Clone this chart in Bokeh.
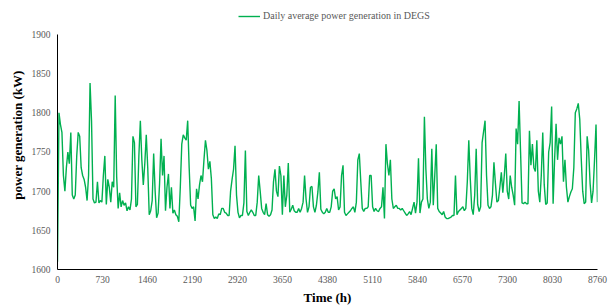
from bokeh.plotting import figure
from bokeh.models import FixedTicker, Legend, LegendItem, Range1d
from bokeh.embed import file_html
from bokeh.resources import INLINE

# daily average power generation (kW), one value per day (hour = day * 24)
power_kw = [
    1610, 1800, 1785, 1775, 1720, 1700, 1730, 1750, 1735, 1775,
    1695, 1690, 1695, 1745, 1775, 1770, 1730, 1720, 1715, 1705,
    1688, 1720, 1838, 1790, 1690, 1685, 1686, 1712, 1685, 1688,
    1686, 1720, 1745, 1683, 1715, 1705, 1686, 1712, 1705, 1822,
    1718, 1678, 1698, 1680, 1688, 1682,
    1685, 1675, 1680, 1676, 1690, 1770, 1762, 1680, 1683, 1745,
    1790, 1740, 1708, 1735, 1772, 1730, 1670, 1675, 1688, 1748,
    1700, 1666, 1672, 1710, 1767, 1720, 1745, 1675, 1705, 1722,
    1678, 1705, 1672, 1676, 1670, 1668, 1661, 1705, 1760, 1772,
    1768, 1765, 1790, 1730, 1682, 1678,
    1680, 1662, 1703, 1690, 1708, 1720, 1712, 1740, 1765, 1752,
    1728, 1738, 1716, 1670, 1665, 1667, 1665, 1671, 1670, 1678,
    1678, 1673, 1672, 1669, 1669, 1700, 1715, 1728, 1758, 1695,
    1673, 1666, 1669, 1669, 1685, 1752, 1674, 1669, 1673, 1676,
    1673, 1669, 1669, 1686, 1720, 1700,
    1678, 1673, 1670, 1684, 1670, 1668, 1670, 1676, 1712, 1728,
    1700, 1693, 1732, 1720, 1670, 1720, 1680, 1695, 1736, 1673,
    1677, 1682, 1675, 1673, 1673, 1678, 1673, 1678, 1686, 1720,
    1690, 1673, 1680, 1705, 1706, 1680, 1673, 1682, 1699, 1724,
    1677, 1673, 1671, 1673, 1678, 1673,
    1673, 1680, 1700, 1703, 1690, 1693, 1676, 1680, 1720, 1733,
    1673, 1669, 1671, 1673, 1675, 1678, 1680, 1673, 1686, 1740,
    1748, 1712, 1678, 1674, 1678, 1678, 1680, 1720, 1720, 1680,
    1674, 1678, 1675, 1674, 1678, 1680, 1705, 1665, 1760, 1735,
    1720, 1740, 1690, 1678, 1680, 1682,
    1678, 1678, 1676, 1678, 1675, 1672, 1669, 1671, 1674, 1670,
    1678, 1686, 1672, 1686, 1742, 1672, 1686, 1690, 1795, 1728,
    1690, 1678, 1686, 1754, 1682, 1720, 1760, 1678, 1674, 1672,
    1670, 1674, 1667, 1665, 1665, 1666, 1667, 1669, 1669, 1720,
    1670, 1674, 1676, 1678, 1680, 1675,
    1678, 1712, 1765, 1716, 1678, 1670, 1695, 1754, 1683, 1674,
    1680, 1762, 1776, 1790, 1720, 1682, 1678, 1680, 1695, 1737,
    1710, 1686, 1688, 1705, 1724, 1698, 1720, 1748, 1700, 1690,
    1720, 1705, 1695, 1682, 1780, 1760, 1815, 1750, 1685, 1684,
    1686, 1684, 1684, 1777, 1733, 1760,
    1730, 1725, 1765, 1700, 1686, 1720, 1775, 1708, 1683, 1685,
    1750, 1762, 1808, 1684, 1740, 1786, 1740, 1768, 1760, 1770,
    1712, 1740, 1705, 1686, 1693, 1699, 1703, 1730, 1800, 1805,
    1812, 1792, 1742, 1700, 1684, 1686, 1770, 1752, 1710, 1685,
    1700, 1740, 1785, 1686,
]
time_h = [d * 24 for d in range(len(power_kw))]

x_ticks = [0, 730, 1460, 2190, 2920, 3650, 4380, 5110, 5840, 6570, 7300, 8030, 8760]
y_ticks = [1600, 1650, 1700, 1750, 1800, 1850, 1900]
series_label = "Daily average power generation in DEGS"
x_title = "Time (h)"
y_title = "power generation (kW)"

FONT = "Liberation Serif"
GREEN = "#00B050"
GREY = "#595959"

# frame runs to the top of the canvas so the legend (drawn inside it) sits above 1900
Y_TOP = 1943.4

p = figure(width=611, height=307, output_backend="svg", toolbar_location=None,
           x_range=Range1d(0, 8760), y_range=Range1d(1600, Y_TOP),
           min_border_left=57, min_border_right=14, min_border_top=0, min_border_bottom=38)
p.outline_line_color = None
p.xgrid.visible = False
p.ygrid.visible = False

r = p.line(time_h, power_kw, line_color=GREEN, line_width=1.4)

for ax in (p.xaxis[0], p.yaxis[0]):
    ax.major_tick_line_color = None
    ax.minor_tick_line_color = None
    ax.major_tick_out = 0
    ax.major_tick_in = 0
    ax.minor_tick_out = 0
    ax.minor_tick_in = 0
    ax.axis_line_color = "black"
    ax.axis_line_width = 1
    ax.major_label_text_font = FONT
    ax.major_label_text_font_size = "9.5px"
    ax.major_label_text_color = GREY
    ax.axis_label_text_font = FONT
    ax.axis_label_text_font_style = "bold"
    ax.axis_label_text_font_size = "13px"
    ax.axis_label_text_color = "black"

p.xaxis.ticker = FixedTicker(ticks=x_ticks)
p.yaxis.ticker = FixedTicker(ticks=y_ticks)
p.yaxis.bounds = (y_ticks[0], y_ticks[-1])
p.xaxis.axis_label = x_title
p.yaxis.axis_label = y_title
p.xaxis.major_label_standoff = 6
p.xaxis.axis_label_standoff = 4
p.yaxis.major_label_standoff = 7
p.yaxis.axis_label_standoff = 4

legend = Legend(items=[LegendItem(label=series_label, renderers=[r])],
                location=(181, 248), padding=0, margin=0, spacing=0,
                glyph_width=22, glyph_height=10, label_standoff=3,
                label_text_font=FONT, label_text_font_size="10px",
                label_text_color=GREY, border_line_color=None,
                background_fill_alpha=0)
p.add_layout(legend)

open("out.html", "w").write(file_html(p, INLINE))
